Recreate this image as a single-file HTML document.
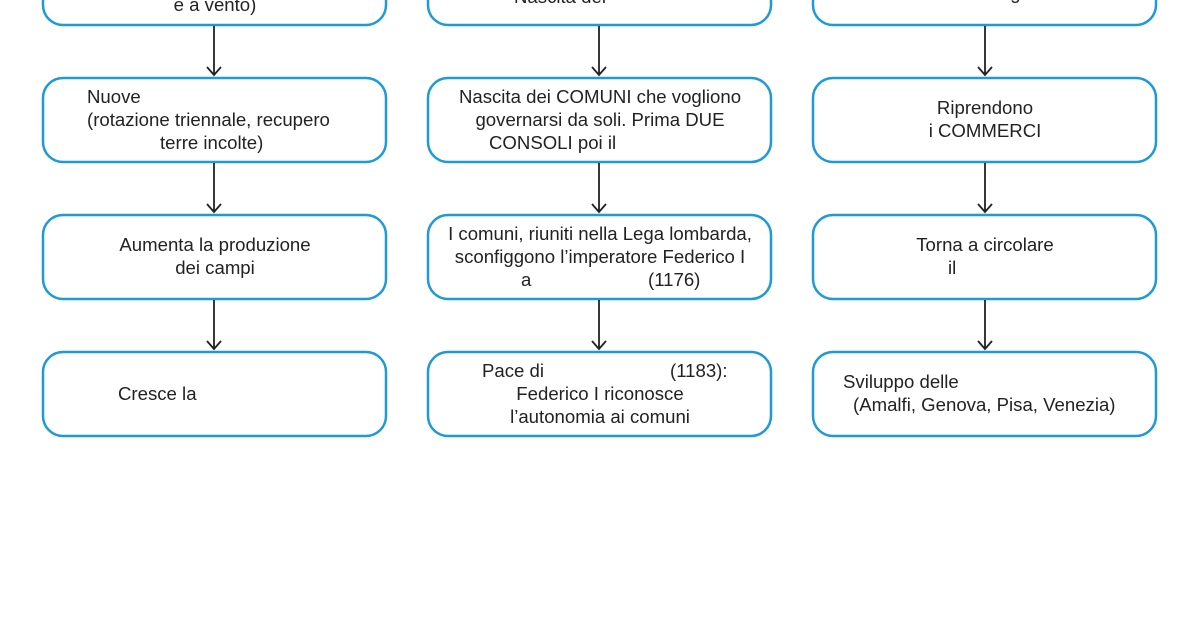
<!DOCTYPE html>
<html><head><meta charset="utf-8"><style>
body{margin:0;width:1200px;height:630px;background:#fff;position:relative;overflow:hidden;font-family:"Liberation Sans",sans-serif;color:#222;}
svg{position:absolute;left:0;top:0}
.t{position:absolute;font-size:18.6px;line-height:22px;white-space:nowrap}
.c{text-align:center;width:344px}
</style></head><body>
<svg width="1200" height="630">
<g fill="none" stroke="#1f9ad6" stroke-width="2.5">
<rect x="43" y="-60" width="343" height="85" rx="20"/>
<rect x="428" y="-60" width="343" height="85" rx="20"/>
<rect x="813" y="-60" width="343" height="85" rx="20"/>
<rect x="43" y="78" width="343" height="84" rx="20"/>
<rect x="428" y="78" width="343" height="84" rx="20"/>
<rect x="813" y="78" width="343" height="84" rx="20"/>
<rect x="43" y="215" width="343" height="84" rx="20"/>
<rect x="428" y="215" width="343" height="84" rx="20"/>
<rect x="813" y="215" width="343" height="84" rx="20"/>
<rect x="43" y="352" width="343" height="84" rx="20"/>
<rect x="428" y="352" width="343" height="84" rx="20"/>
<rect x="813" y="352" width="343" height="84" rx="20"/>
</g>
<g fill="none" stroke="#222" stroke-width="1.8">
<path d="M214 26V75M207 67l7 8 7-8"/>
<path d="M599 26V75M592 67l7 8 7-8"/>
<path d="M985 26V75M978 67l7 8 7-8"/>
<path d="M214 163V212M207 204l7 8 7-8"/>
<path d="M599 163V212M592 204l7 8 7-8"/>
<path d="M985 163V212M978 204l7 8 7-8"/>
<path d="M214 300V349M207 341l7 8 7-8"/>
<path d="M599 300V349M592 341l7 8 7-8"/>
<path d="M985 300V349M978 341l7 8 7-8"/>
</g>
</svg>
<div class="t c" style="left:43px;top:-6px">e a vento)</div>
<div class="t" style="left:514px;top:-14px">Nascita dei</div>
<div class="t c" style="left:813px;top:-18px">le attività artigianali</div>

<div class="t" style="left:87px;top:86px">Nuove</div>
<div class="t" style="left:87px;top:109px">(rotazione triennale, recupero</div>
<div class="t" style="left:160px;top:132px">terre incolte)</div>
<div class="t c" style="left:428px;top:86px">Nascita dei COMUNI che vogliono</div>
<div class="t c" style="left:428px;top:109px">governarsi da soli. Prima DUE</div>
<div class="t" style="left:489px;top:132px">CONSOLI poi il</div>
<div class="t c" style="left:813px;top:97px">Riprendono</div>
<div class="t c" style="left:813px;top:120px">i COMMERCI</div>

<div class="t c" style="left:43px;top:234px">Aumenta la produzione</div>
<div class="t c" style="left:43px;top:257px">dei campi</div>
<div class="t c" style="left:428px;top:223px">I comuni, riuniti nella Lega lombarda,</div>
<div class="t c" style="left:428px;top:246px">sconfiggono l’imperatore Federico I</div>
<div class="t" style="left:521px;top:269px">a</div>
<div class="t" style="left:648px;top:269px">(1176)</div>
<div class="t c" style="left:813px;top:234px">Torna a circolare</div>
<div class="t" style="left:948px;top:257px">il</div>

<div class="t" style="left:118px;top:383px">Cresce la</div>
<div class="t" style="left:482px;top:360px">Pace di</div>
<div class="t" style="left:670px;top:360px">(1183):</div>
<div class="t c" style="left:428px;top:383px">Federico I riconosce</div>
<div class="t c" style="left:428px;top:406px">l’autonomia ai comuni</div>
<div class="t" style="left:843px;top:371px">Sviluppo delle</div>
<div class="t" style="left:853px;top:394px">(Amalfi, Genova, Pisa, Venezia)</div>
</body></html>
